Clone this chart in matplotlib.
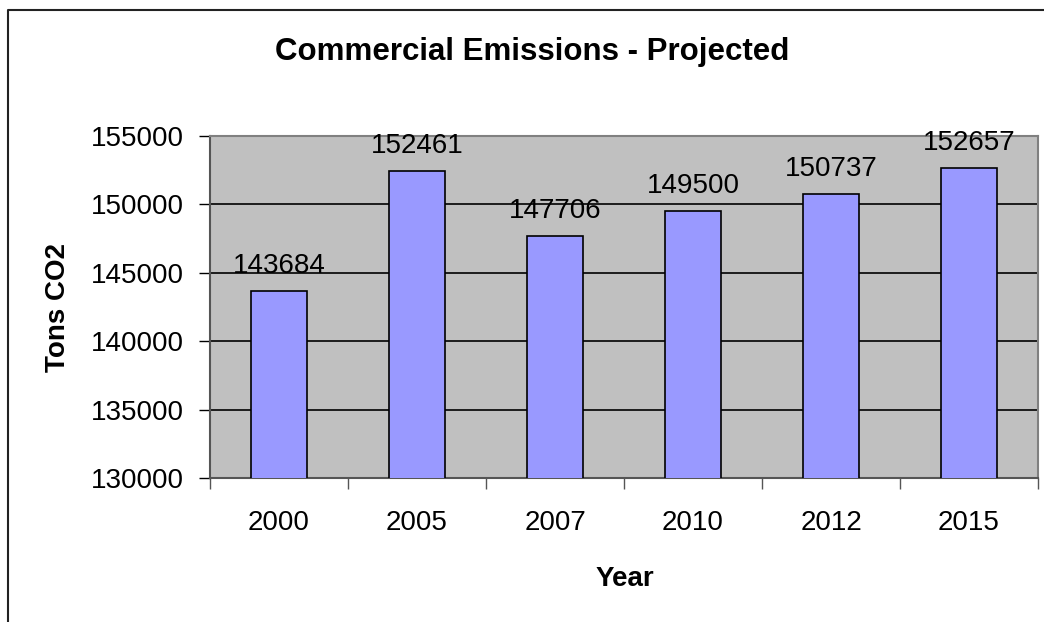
import matplotlib
matplotlib.use("Agg")
import matplotlib.pyplot as plt
from matplotlib.lines import Line2D
import numpy as np

plt.rcParams['font.family'] = ['Liberation Sans', 'DejaVu Sans']

years = ["2000", "2005", "2007", "2010", "2012", "2015"]
emissions = [143684, 152461, 147706, 149500, 150737, 152657]
y_ticks = [130000, 135000, 140000, 145000, 150000, 155000]

W, H = 1044, 622
fig = plt.figure(figsize=(W / 100, H / 100), dpi=100)
fig.patch.set_facecolor("white")

# chart frame (left and top edges visible)
fig.add_artist(Line2D([8 / W, 8 / W, 1.0], [0.0, 1 - 10 / H, 1 - 10 / H],
                      transform=fig.transFigure, color="#222222", lw=1.5))

ax = fig.add_axes([210 / W, 1 - 478 / H, (1038 - 210) / W, (478 - 136) / H])
ax.set_facecolor("#C0C0C0")

x = np.arange(len(years))
ax.bar(x, emissions, width=0.41, color="#9999FF", edgecolor="black", linewidth=1.2, zorder=3)

for xi, v in zip(x, emissions):
    ax.annotate(str(v), (xi, v), xytext=(0, 13), textcoords="offset points",
                ha="center", va="baseline", fontsize=20, zorder=4)

ax.set_ylim(130000, 155000)
ax.set_xlim(-0.5, len(years) - 0.5)
ax.set_yticks(y_ticks)
ax.set_yticklabels([str(t) for t in y_ticks])
ax.yaxis.grid(True, color="black", linewidth=1.2, zorder=1)
ax.set_axisbelow(True)

ax.set_xticks(x)
ax.set_xticklabels(years)
ax.set_xticks(np.arange(len(years) + 1) - 0.5, minor=True)
ax.tick_params(axis="x", which="major", length=0, labelsize=20, pad=23)
ax.tick_params(axis="x", which="minor", length=8, width=1, color="#555555")
ax.tick_params(axis="y", length=8, width=1, labelsize=20, pad=11)

for side in ["left", "bottom"]:
    ax.spines[side].set_color("#555555")
    ax.spines[side].set_linewidth(1.5)
for side in ["top", "right"]:
    ax.spines[side].set_color("#808080")
    ax.spines[side].set_linewidth(1.5)

ax.set_ylabel("Tons CO2", fontsize=20, fontweight="bold", labelpad=14)
fig.text(625 / W, 1 - 586 / H, "Year", ha="center", va="baseline",
         fontsize=20, fontweight="bold")
fig.text(532 / W, 1 - 52 / H, "Commercial Emissions - Projected",
         ha="center", va="center", fontsize=22.5, fontweight="bold")

fig.savefig("out.png", dpi=100)
